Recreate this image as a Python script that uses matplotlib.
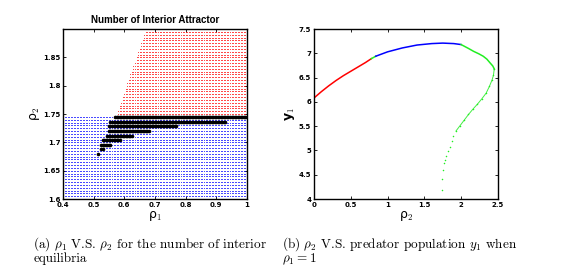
import numpy as np
import matplotlib
matplotlib.use("Agg")
import matplotlib.pyplot as plt

plt.rcParams["mathtext.fontset"] = "cm"

# ---- panel (a): parameter sweep grid ----
rho1_grid = np.arange(0.4, 1.0001, 0.005)
blue_rows = np.arange(1.6, 1.7451, 0.005)          # one interior equilibrium
red_rows = np.arange(1.75, 1.8951, 0.005)          # two interior equilibria
red_start = [0.576, 0.579, 0.582, 0.585, 0.588, 0.592, 0.595, 0.598, 0.601, 0.604,
             0.607, 0.610, 0.614, 0.617, 0.620, 0.623, 0.626, 0.629, 0.633, 0.636,
             0.639, 0.642, 0.645, 0.648, 0.652, 0.655, 0.658, 0.661, 0.664, 0.667]
# attractor rows (black)
black_rows = [1.744, 1.736, 1.728, 1.720, 1.712, 1.704, 1.696, 1.688, 1.680]
black_lo = [0.566, 0.555, 0.548, 0.547, 0.542, 0.528, 0.524, 0.523, 0.514]
black_hi = [1.000, 0.930, 0.772, 0.684, 0.627, 0.586, 0.557, 0.534, 0.515]

# ---- panel (b): y1 vs rho2 at rho1 = 1 ----
red_x = [0.0, 0.1, 0.2, 0.3, 0.4, 0.5, 0.6, 0.7, 0.78]
red_y = [6.08, 6.21, 6.33, 6.44, 6.54, 6.63, 6.72, 6.81, 6.89]
g1_x = [0.78, 0.84]
g1_y = [6.89, 6.94]
blue_x = [0.84, 1.0, 1.2, 1.4, 1.6, 1.75, 1.9, 2.0]
blue_y = [6.94, 7.03, 7.11, 7.17, 7.20, 7.21, 7.20, 7.18]
g2_x = [2.0, 2.1, 2.17, 2.24, 2.30, 2.35, 2.395, 2.43, 2.45]
g2_y = [7.18, 7.10, 7.04, 6.99, 6.94, 6.88, 6.80, 6.74, 6.68]
g3_x = [2.45, 2.44, 2.42, 2.385, 2.34, 2.28, 2.22, 2.16, 2.10, 2.04, 1.98,
        1.93, 1.89, 1.87, 1.85, 1.82, 1.80, 1.78, 1.77, 1.755, 1.745, 1.74]
g3_y = [6.68, 6.55, 6.45, 6.32, 6.18, 6.06, 5.95, 5.85, 5.74, 5.62, 5.50,
        5.40, 5.30, 5.20, 5.08, 4.98, 4.88, 4.80, 4.74, 4.60, 4.41, 4.18]

fig = plt.figure(figsize=(5.82, 2.74), dpi=100)
ax1 = fig.add_axes([0.1082, 0.2737, 0.316, 0.6204])
ax2 = fig.add_axes([0.5395, 0.2737, 0.316, 0.6204])

for r in blue_rows:
    ax1.plot(rho1_grid, np.full_like(rho1_grid, r), ".", color="blue", ms=1.1, mew=0)
for r, s in zip(red_rows, red_start):
    xs = rho1_grid[rho1_grid >= s]
    ax1.plot(xs, np.full_like(xs, r), ".", color="red", ms=1.1, mew=0)
for r, lo, hi in zip(black_rows, black_lo, black_hi):
    xs = rho1_grid[(rho1_grid >= lo - 1e-9) & (rho1_grid <= hi + 1e-9)]
    if len(xs) == 0:
        xs = np.array([lo])
    ax1.plot(xs, np.full_like(xs, r), "o", color="black", ms=2.6, mew=0)

ax1.set_xlim(0.4, 1.0)
ax1.set_ylim(1.6, 1.9)
ax1.set_xticks([0.4, 0.5, 0.6, 0.7, 0.8, 0.9, 1.0])
ax1.set_xticklabels(["0.4", "0.5", "0.6", "0.7", "0.8", "0.9", "1"])
ax1.set_yticks([1.6, 1.65, 1.7, 1.75, 1.8, 1.85])
ax1.set_yticklabels(["1.6", "1.65", "1.7", "1.75", "1.8", "1.85"])
ax1.set_title("Number of Interior Attractor", fontsize=7, fontweight="bold",
              family="Liberation Sans", pad=4)
ax1.set_xlabel("ρ$_1$", fontsize=9, labelpad=1)
ax1.set_ylabel("ρ$_2$", fontsize=9, labelpad=1)

ax2.plot(red_x, red_y, "-", color="red", lw=1.1)
ax2.plot(g1_x, g1_y, "-", color="#22ee22", lw=1.1)
ax2.plot(blue_x, blue_y, "-", color="blue", lw=1.1)
ax2.plot(g2_x, g2_y, "-", color="#22ee22", lw=1.1)
ax2.plot(g3_x[:12], g3_y[:12], "-", color="#44ee44", lw=0.7)
ax2.plot(g3_x, g3_y, ".", color="#22ee22", ms=2.2, mew=0)
ax2.set_xlim(0, 2.5)
ax2.set_ylim(4, 7.5)
ax2.set_xticks([0, 0.5, 1, 1.5, 2, 2.5])
ax2.set_xticklabels(["0", "0.5", "1", "1.5", "2", "2.5"])
ax2.set_yticks([4, 4.5, 5, 5.5, 6, 6.5, 7, 7.5])
ax2.set_yticklabels(["4", "4.5", "5", "5.5", "6", "6.5", "7", "7.5"])
ax2.set_xlabel("ρ$_2$", fontsize=9, labelpad=1)
ax2.set_ylabel("y$_1$", fontsize=9, fontweight="bold", labelpad=1)

for ax in (ax1, ax2):
    ax.tick_params(direction="in", top=True, right=True, length=2.5, width=0.6,
                   labelsize=5, pad=2)
    for lab in ax.get_xticklabels() + ax.get_yticklabels():
        lab.set_fontweight("bold")
    for sp in ax.spines.values():
        sp.set_linewidth(1.0)

cap = dict(fontsize=9.5, family="cmr10", va="top", ha="left", linespacing=0.85)
fig.text(0.057, 0.14, "(a) $\\rho_1$ V.S. $\\rho_2$ for the number of interior\nequilibria",
         **cap)
fig.text(0.4845, 0.14, "(b) $\\rho_2$ V.S. predator population $y_1$ when\n$\\rho_1 = 1$",
         **cap)

fig.savefig("out.png", dpi=100)
